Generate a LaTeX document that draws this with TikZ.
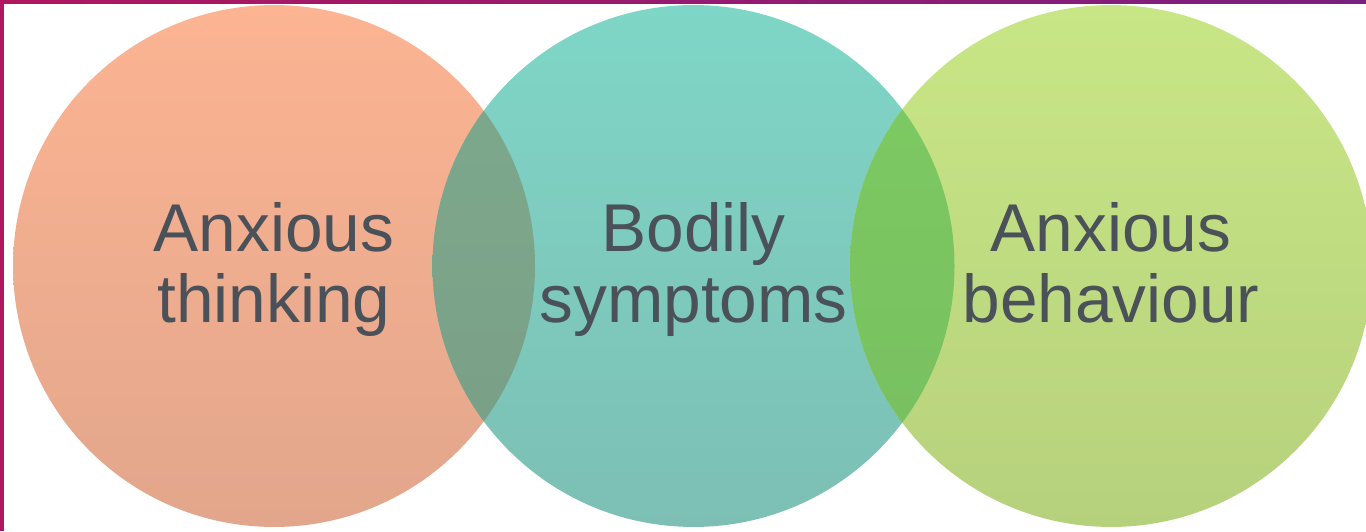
\documentclass[tikz,border=0pt]{standalone}
\usepackage{fontspec}
\setmainfont{Liberation Sans}
\definecolor{thinkT}{HTML}{FCB492}
\definecolor{thinkB}{HTML}{E2A68C}
\definecolor{bodyT}{HTML}{7ED6C7}
\definecolor{bodyB}{HTML}{7DBFB4}
\definecolor{actT}{HTML}{C9E686}
\definecolor{actB}{HTML}{B6D17C}
\definecolor{mixL}{HTML}{7EAA8D}
\definecolor{mixLb}{HTML}{799E86}
\definecolor{mixR}{HTML}{7DCB62}
\definecolor{mixRb}{HTML}{78BE60}
\definecolor{barL}{HTML}{B0175F}
\definecolor{barR}{HTML}{7A1F80}
\definecolor{txt}{HTML}{4A5159}
\begin{document}
\begin{tikzpicture}[x=0.02cm, y=-0.02cm,
  bubble/.style={circle, minimum size=10.44cm, inner sep=0pt},
  lbl/.style={align=center, anchor=base, text=txt, font=\fontsize{38.5}{40}\selectfont}]
\useasboundingbox (0,0) rectangle (1366,531);
\clip (0,0) rectangle (1366,531);
\fill[white] (0,0) rectangle (1366,531);
% the three circles
\node[bubble, top color=thinkT, bottom color=thinkB] (think) at (274,266) {};
\node[bubble, top color=bodyT, bottom color=bodyB] (body) at (693.5,266) {};
\node[bubble, top color=actT, bottom color=actB] (act) at (1111,266) {};
% overlaps
\begin{scope}
  \clip (think.center) circle[radius=261];
  \shade[top color=mixL, bottom color=mixLb] (body.center) circle[radius=261];
\end{scope}
\begin{scope}
  \clip (body.center) circle[radius=261];
  \shade[top color=mixR, bottom color=mixRb] (act.center) circle[radius=261];
\end{scope}
% labels, last baseline at the same height
\node[lbl] (lthink) at (274,322) {Anxious\\thinking};
\node[lbl] (lbody) at (693.5,322) {Bodily\\symptoms};
\node[lbl] (lact) at (1111,322) {Anxious\\behaviour};
% frame bars
\shade[left color=barL, right color=barR] (0,0) rectangle (1366,3.5);
\fill[barL] (0,0) rectangle (4,531);
\end{tikzpicture}
\end{document}
